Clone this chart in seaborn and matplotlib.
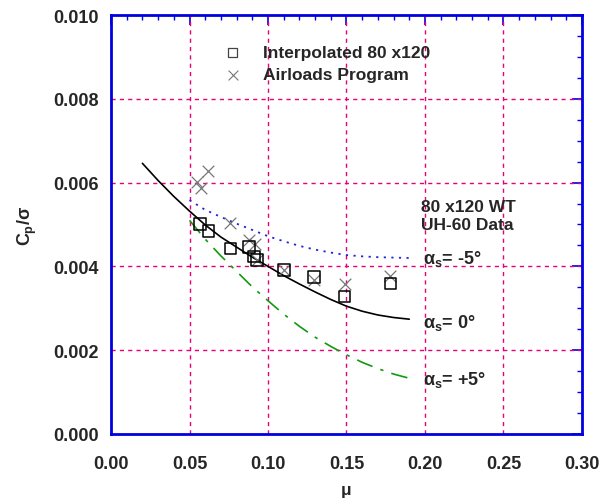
import matplotlib
matplotlib.use("Agg")
import matplotlib.pyplot as plt
from matplotlib.ticker import MultipleLocator, FormatStrFormatter
import seaborn as sns
import pandas as pd

# Measured points
mu_interp = [0.0567, 0.0622, 0.0760, 0.0878, 0.0910, 0.0931, 0.1101, 0.1292, 0.1488, 0.1780]
cp_interp = [0.00501, 0.00484, 0.00443, 0.00446, 0.00424, 0.00416, 0.00392, 0.00375, 0.00328, 0.00359]

mu_airloads = [0.0619, 0.0549, 0.0571, 0.0760, 0.0878, 0.0917, 0.0931, 0.1101, 0.1292, 0.1488, 0.1780]
cp_airloads = [0.00627, 0.00601, 0.00586, 0.00504, 0.00464, 0.00453, 0.00416, 0.00392, 0.00368, 0.00359, 0.00378]

# Predicted curves for shaft angles -5, 0, +5 deg
mu_zero = [0.020, 0.030, 0.040, 0.050, 0.060, 0.070, 0.080, 0.090, 0.100, 0.110,
           0.120, 0.130, 0.140, 0.150, 0.160, 0.170, 0.180, 0.190]
cp_zero = [0.00646, 0.00605, 0.00567, 0.00532, 0.00499, 0.00470, 0.00446, 0.00422, 0.00400, 0.00378,
           0.00358, 0.00339, 0.00321, 0.00305, 0.00293, 0.00284, 0.00278, 0.00274]

mu_side = [0.050, 0.060, 0.070, 0.080, 0.090, 0.100, 0.110, 0.120, 0.130, 0.140,
           0.150, 0.160, 0.170, 0.180, 0.190]
cp_minus5 = [0.00558, 0.00535, 0.00518, 0.00502, 0.00487, 0.00472, 0.00460, 0.00449, 0.00440, 0.00433,
             0.00427, 0.00424, 0.00422, 0.00421, 0.00420]
cp_plus5 = [0.00510, 0.00465, 0.00425, 0.00388, 0.00351, 0.00318, 0.00286, 0.00257, 0.00231, 0.00209,
            0.00189, 0.00171, 0.00156, 0.00143, 0.00133]

x_ticks = [0.00, 0.05, 0.10, 0.15, 0.20, 0.25, 0.30]
y_ticks = [0.000, 0.002, 0.004, 0.006, 0.008, 0.010]

sns.set_style("white")
plt.rcParams["font.family"] = ["Liberation Sans", "DejaVu Sans"]
plt.rcParams["font.weight"] = "bold"
plt.rcParams["mathtext.fontset"] = "custom"
plt.rcParams["mathtext.rm"] = "Liberation Sans:bold"
plt.rcParams["mathtext.it"] = "Liberation Sans:bold"
plt.rcParams["mathtext.bf"] = "Liberation Sans:bold"

fig = plt.figure(figsize=(6.13, 5.02), dpi=100)
ax = fig.add_axes([0.1811, 0.1335, 0.7683, 0.8346])

axis_blue = "#0000e0"
grid_pink = "#e8007a"

# grid first so data sits on top
for xv in x_ticks[1:-1]:
    ax.axvline(xv, color=grid_pink, lw=1.0, ls=(0, (3, 3)), zorder=1)
for yv in y_ticks[1:-1]:
    ax.axhline(yv, color=grid_pink, lw=1.0, ls=(0, (3, 3)), zorder=1)

df_zero = pd.DataFrame({"mu": mu_zero, "cp": cp_zero})
df_side = pd.DataFrame({"mu": mu_side, "m5": cp_minus5, "p5": cp_plus5})

sns.lineplot(data=df_side, x="mu", y="m5", ax=ax, color="#2222dd", lw=1.3,
             linestyle=(0, (1.2, 3.0)), zorder=3)
sns.lineplot(data=df_zero, x="mu", y="cp", ax=ax, color="black", lw=1.2, zorder=3)
sns.lineplot(data=df_side, x="mu", y="p5", ax=ax, color="#119911", lw=1.2,
             linestyle=(0, (10, 5, 2, 5)), zorder=3)

df_i = pd.DataFrame({"mu": mu_interp, "cp": cp_interp})
df_a = pd.DataFrame({"mu": mu_airloads, "cp": cp_airloads})
sns.scatterplot(data=df_a, x="mu", y="cp", ax=ax, marker="x", s=70, color="#777777",
                linewidth=0.9, zorder=4)
sns.scatterplot(data=df_i, x="mu", y="cp", ax=ax, marker="s", s=70, facecolor="none",
                edgecolor="black", linewidth=1.1, zorder=5)

# legend drawn as marker + text
ax.scatter([0.0775], [0.0091], marker="s", s=45, facecolor="none", edgecolor="#444444",
           linewidth=0.9, zorder=6)
ax.scatter([0.0775], [0.00857], marker="x", s=50, color="#777777", linewidth=0.8, zorder=6)
ax.text(0.097, 0.0091, "Interpolated 80 x120", fontsize=12.5, fontweight="bold",
        va="center", ha="left")
ax.text(0.097, 0.00857, "Airloads Program", fontsize=12.5, fontweight="bold",
        va="center", ha="left")

ax.text(0.1975, 0.00560, "80 x120 WT\nUH-60 Data", fontsize=12.5, fontweight="bold",
        va="top", ha="left", linespacing=1.25)
ax.text(0.1985, 0.00420, r"$\alpha_s$= -5°", fontsize=13, fontweight="bold",
        va="center", ha="left")
ax.text(0.1985, 0.00268, r"$\alpha_s$= 0°", fontsize=13, fontweight="bold",
        va="center", ha="left")
ax.text(0.1985, 0.00131, r"$\alpha_s$= +5°", fontsize=13, fontweight="bold",
        va="center", ha="left")

ax.set_xlim(0.0, 0.30)
ax.set_ylim(0.0, 0.010)
ax.set_xticks(x_ticks)
ax.set_yticks(y_ticks)
ax.xaxis.set_major_formatter(FormatStrFormatter("%.2f"))
ax.yaxis.set_major_formatter(FormatStrFormatter("%.3f"))
ax.xaxis.set_minor_locator(MultipleLocator(0.01))
ax.yaxis.set_minor_locator(MultipleLocator(0.0005))
ax.tick_params(which="both", direction="in", top=True, right=True, color=axis_blue,
               labelsize=13)
ax.tick_params(axis="x", which="major", pad=15)
ax.tick_params(axis="y", which="major", pad=9)
ax.tick_params(which="major", length=7, width=1.2)
ax.tick_params(which="minor", length=3.5, width=1.0)
for lab in ax.get_xticklabels() + ax.get_yticklabels():
    lab.set_fontweight("bold")

for sp in ax.spines.values():
    sp.set_color(axis_blue)
    sp.set_linewidth(2.0)
    sp.set_visible(True)

ax.set_xlabel("μ", fontsize=12.5, fontweight="bold", labelpad=7)
ax.set_ylabel(r"$C_p/\sigma$", fontsize=13, fontweight="bold", labelpad=10)

fig.savefig("out.png", dpi=100)
